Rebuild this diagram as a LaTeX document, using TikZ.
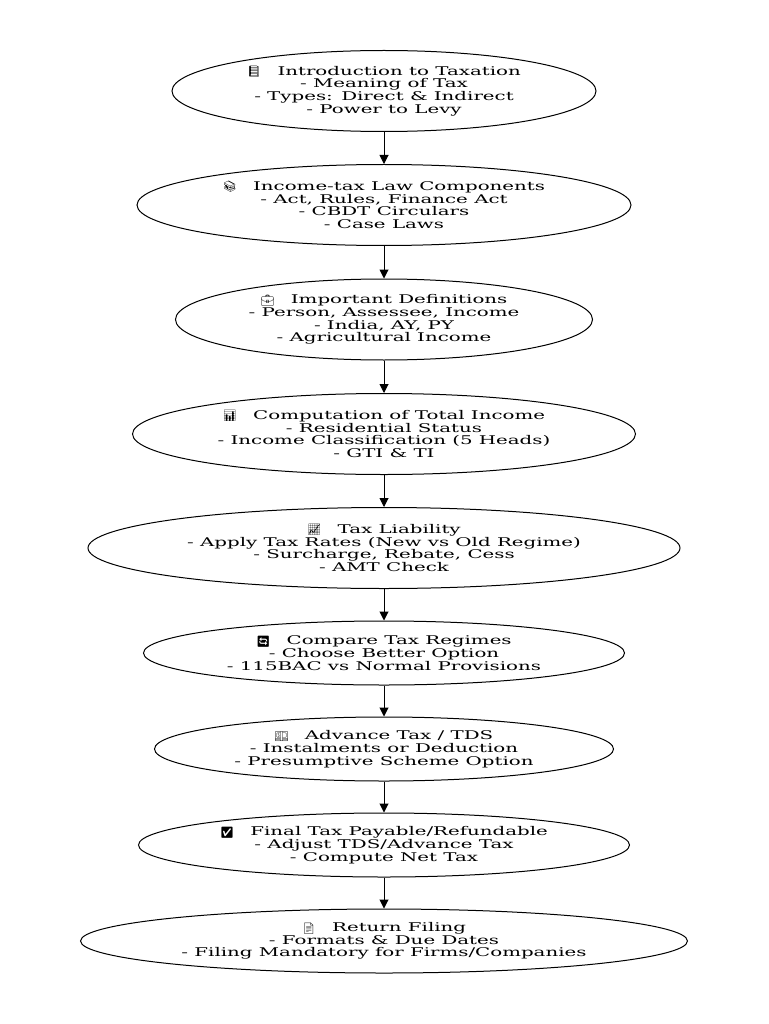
\documentclass[tikz,border=0pt]{standalone}
\usepackage{fontspec}
\setmainfont{DejaVu Serif}
\newfontfamily\emofont{Noto Emoji}
\usetikzlibrary{shapes.geometric,arrows.meta}
\newcommand{\hs}[1]{\scalebox{1.65}[1]{#1}}
\newcommand{\emo}[1]{\raisebox{-0.5pt}{\fontsize{11}{11}\emofont\symbol{"#1}}\hspace{10pt}}
\begin{document}
\begin{tikzpicture}[x=1pt,y=-1pt]
\tikzset{
  box/.style={ellipse,draw,line width=1pt,inner sep=0pt,align=center,
    font=\fontsize{12}{12.7}\selectfont},
  arr/.style={-{Triangle[length=9pt,width=9pt]},line width=1pt}
}
\useasboundingbox (0,0) rectangle (768,1024);
\node[box,minimum width=424pt,minimum height=81pt] (n1) at (384,91)
  {\emo{1F4D8}\hs{~Introduction to Taxation}\\\hs{- Meaning of Tax}\\\hs{- Types: Direct \& Indirect}\\\hs{- Power to Levy}};
\node[box,minimum width=494pt,minimum height=81pt] (n2) at (384,205)
  {\emo{1F4DA}\hs{~Income-tax Law Components}\\\hs{- Act, Rules, Finance Act}\\\hs{- CBDT Circulars}\\\hs{- Case Laws}};
\node[box,minimum width=417pt,minimum height=81pt] (n3) at (384,319.5)
  {\emo{1F4BC}\hs{~Important Definitions}\\\hs{- Person, Assessee, Income}\\\hs{- India, AY, PY}\\\hs{- Agricultural Income}};
\node[box,minimum width=503pt,minimum height=81pt] (n4) at (384,434)
  {\emo{1F4CA}\hs{~Computation of Total Income}\\\hs{- Residential Status}\\\hs{- Income Classification (5 Heads)}\\\hs{- GTI \& TI}};
\node[box,minimum width=592pt,minimum height=81pt] (n5) at (384,548)
  {\emo{1F4C8}\hs{~Tax Liability}\\\hs{- Apply Tax Rates (New vs Old Regime)}\\\hs{- Surcharge, Rebate, Cess}\\\hs{- AMT Check}};
\node[box,minimum width=481pt,minimum height=64pt] (n6) at (384,653)
  {\emo{1F504}\hs{~Compare Tax Regimes}\\\hs{- Choose Better Option}\\\hs{- 115BAC vs Normal Provisions}};
\node[box,minimum width=459pt,minimum height=64pt] (n7) at (384,749)
  {\emo{1F4B5}\hs{~Advance Tax / TDS}\\\hs{- Instalments or Deduction}\\\hs{- Presumptive Scheme Option}};
\node[box,minimum width=491pt,minimum height=64pt] (n8) at (384,845)
  {\emo{2705}\hs{~Final Tax Payable/Refundable}\\\hs{- Adjust TDS/Advance Tax}\\\hs{- Compute Net Tax}};
\node[box,minimum width=607pt,minimum height=64pt] (n9) at (384,941)
  {\emo{1F4C4}\hs{~Return Filing}\\\hs{- Formats \& Due Dates}\\\hs{- Filing Mandatory for Firms/Companies}};
\foreach \a/\b in {n1/n2,n2/n3,n3/n4,n4/n5,n5/n6,n6/n7,n7/n8,n8/n9}
  \draw[arr] (\a.south) -- (\b.north);
\end{tikzpicture}
\end{document}
